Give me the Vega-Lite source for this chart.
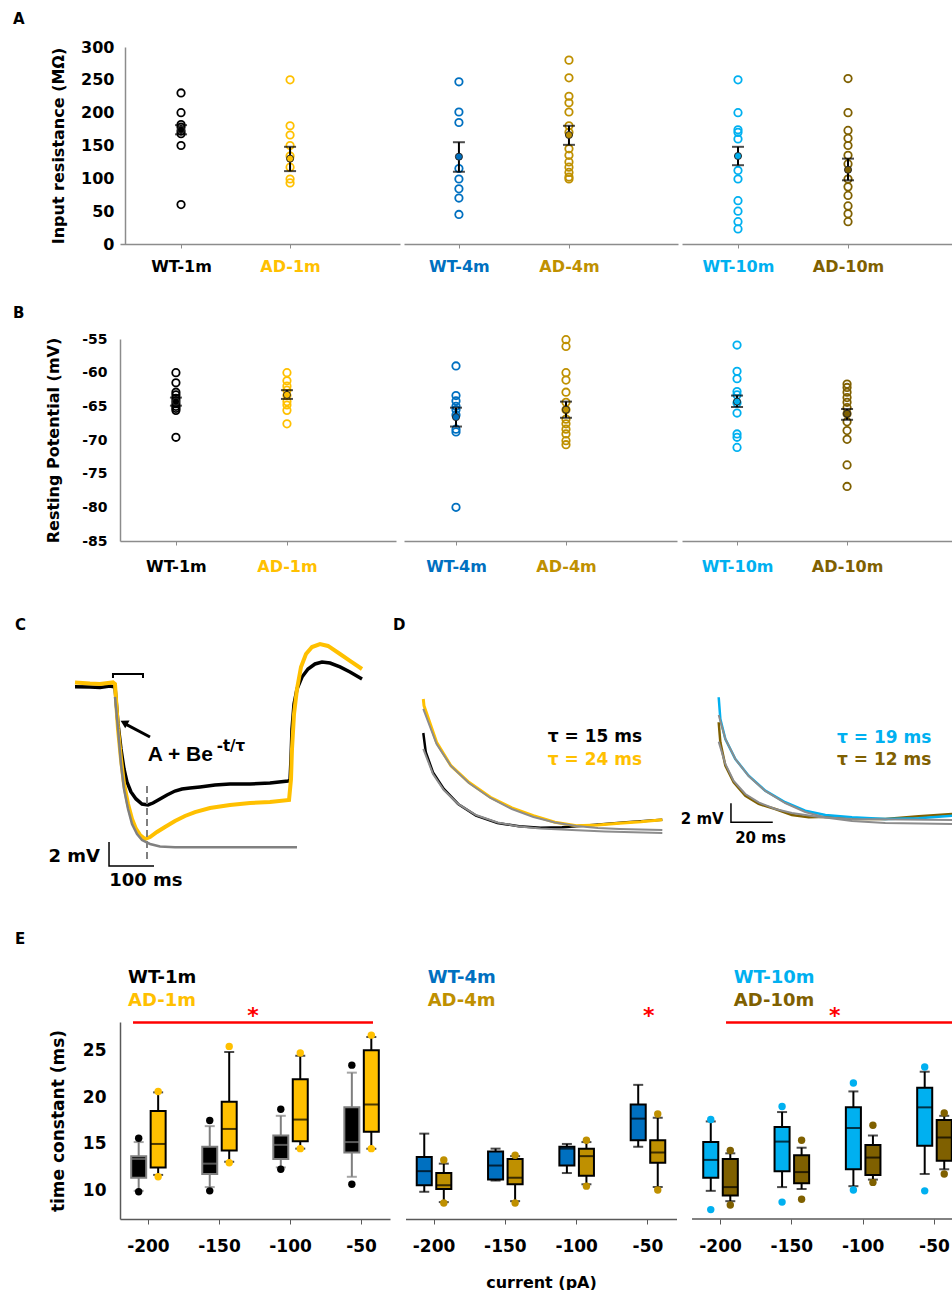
{
"$schema": "https://vega.github.io/schema/vega-lite/v6.json",
"background": "white",
"padding": {"left": 13, "top": 12, "right": 0, "bottom": 0},
"columns": 3,
"align": "none",
"bounds": "flush",
"spacing": {"row": 95, "column": 4},
"resolve": {"scale": {"x": "independent", "y": "independent", "stroke": "independent", "fill": "independent", "color": "independent", "xOffset": "independent"}},
"config": {
  "view": {"stroke": null},
  "font": "DejaVu Sans",
  "axis": {"labelFont": "DejaVu Sans", "titleFont": "DejaVu Sans", "labelFontWeight": "bold", "titleFontWeight": "bold", "labelColor": "#000000", "titleColor": "#000000", "grid": false, "labelOverlap": false},
  "axisY": {"labelOverlap": false, "labelSeparation": -40},
  "title": {"font": "DejaVu Sans", "fontWeight": "bold", "fontSize": 15, "anchor": "start", "frame": "group", "color": "#000000"},
  "text": {"font": "DejaVu Sans", "fontWeight": "bold"}
},
"datasets": {
  "A": [
    {"grp":"WT-1m","age":"1m","val":230},{"grp":"WT-1m","age":"1m","val":200},{"grp":"WT-1m","age":"1m","val":182},{"grp":"WT-1m","age":"1m","val":178},{"grp":"WT-1m","age":"1m","val":172},{"grp":"WT-1m","age":"1m","val":168},{"grp":"WT-1m","age":"1m","val":150},{"grp":"WT-1m","age":"1m","val":60},
    {"grp":"AD-1m","age":"1m","val":250},{"grp":"AD-1m","age":"1m","val":180},{"grp":"AD-1m","age":"1m","val":166},{"grp":"AD-1m","age":"1m","val":150},{"grp":"AD-1m","age":"1m","val":134},{"grp":"AD-1m","age":"1m","val":117},{"grp":"AD-1m","age":"1m","val":99},{"grp":"AD-1m","age":"1m","val":93},
    {"grp":"WT-4m","age":"4m","val":247},{"grp":"WT-4m","age":"4m","val":201},{"grp":"WT-4m","age":"4m","val":185},{"grp":"WT-4m","age":"4m","val":115},{"grp":"WT-4m","age":"4m","val":99},{"grp":"WT-4m","age":"4m","val":84},{"grp":"WT-4m","age":"4m","val":70},{"grp":"WT-4m","age":"4m","val":45},
    {"grp":"AD-4m","age":"4m","val":280},{"grp":"AD-4m","age":"4m","val":253},{"grp":"AD-4m","age":"4m","val":225},{"grp":"AD-4m","age":"4m","val":215},{"grp":"AD-4m","age":"4m","val":201},{"grp":"AD-4m","age":"4m","val":180},{"grp":"AD-4m","age":"4m","val":170},{"grp":"AD-4m","age":"4m","val":145},{"grp":"AD-4m","age":"4m","val":135},{"grp":"AD-4m","age":"4m","val":125},{"grp":"AD-4m","age":"4m","val":117},{"grp":"AD-4m","age":"4m","val":109},{"grp":"AD-4m","age":"4m","val":102},{"grp":"AD-4m","age":"4m","val":99},
    {"grp":"WT-10m","age":"10m","val":250},{"grp":"WT-10m","age":"10m","val":200},{"grp":"WT-10m","age":"10m","val":174},{"grp":"WT-10m","age":"10m","val":170},{"grp":"WT-10m","age":"10m","val":160},{"grp":"WT-10m","age":"10m","val":112},{"grp":"WT-10m","age":"10m","val":99},{"grp":"WT-10m","age":"10m","val":66},{"grp":"WT-10m","age":"10m","val":50},{"grp":"WT-10m","age":"10m","val":34},{"grp":"WT-10m","age":"10m","val":23},
    {"grp":"AD-10m","age":"10m","val":252},{"grp":"AD-10m","age":"10m","val":200},{"grp":"AD-10m","age":"10m","val":173},{"grp":"AD-10m","age":"10m","val":161},{"grp":"AD-10m","age":"10m","val":150},{"grp":"AD-10m","age":"10m","val":135},{"grp":"AD-10m","age":"10m","val":122},{"grp":"AD-10m","age":"10m","val":99},{"grp":"AD-10m","age":"10m","val":87},{"grp":"AD-10m","age":"10m","val":74},{"grp":"AD-10m","age":"10m","val":58},{"grp":"AD-10m","age":"10m","val":46},{"grp":"AD-10m","age":"10m","val":34}
  ],
  "As": [
    {"grp":"WT-1m","age":"1m","mean":174,"lo":167,"hi":181},
    {"grp":"AD-1m","age":"1m","mean":130,"lo":111,"hi":148},
    {"grp":"WT-4m","age":"4m","mean":133,"lo":110,"hi":155},
    {"grp":"AD-4m","age":"4m","mean":166,"lo":151,"hi":180},
    {"grp":"WT-10m","age":"10m","mean":134,"lo":120,"hi":148},
    {"grp":"AD-10m","age":"10m","mean":113,"lo":97,"hi":130}
  ],
  "B": [
    {"grp":"WT-1m","age":"1m","val":-60},{"grp":"WT-1m","age":"1m","val":-61.5},{"grp":"WT-1m","age":"1m","val":-62.9},{"grp":"WT-1m","age":"1m","val":-63.3},{"grp":"WT-1m","age":"1m","val":-63.8},{"grp":"WT-1m","age":"1m","val":-64.2},{"grp":"WT-1m","age":"1m","val":-64.6},{"grp":"WT-1m","age":"1m","val":-65},{"grp":"WT-1m","age":"1m","val":-65.3},{"grp":"WT-1m","age":"1m","val":-65.6},{"grp":"WT-1m","age":"1m","val":-69.6},
    {"grp":"AD-1m","age":"1m","val":-60},{"grp":"AD-1m","age":"1m","val":-61.2},{"grp":"AD-1m","age":"1m","val":-62},{"grp":"AD-1m","age":"1m","val":-62.6},{"grp":"AD-1m","age":"1m","val":-63.4},{"grp":"AD-1m","age":"1m","val":-64.3},{"grp":"AD-1m","age":"1m","val":-64.8},{"grp":"AD-1m","age":"1m","val":-65.6},{"grp":"AD-1m","age":"1m","val":-67.6},
    {"grp":"WT-4m","age":"4m","val":-59},{"grp":"WT-4m","age":"4m","val":-63.4},{"grp":"WT-4m","age":"4m","val":-64.2},{"grp":"WT-4m","age":"4m","val":-65},{"grp":"WT-4m","age":"4m","val":-65.5},{"grp":"WT-4m","age":"4m","val":-66.3},{"grp":"WT-4m","age":"4m","val":-68.4},{"grp":"WT-4m","age":"4m","val":-68.8},{"grp":"WT-4m","age":"4m","val":-80},
    {"grp":"AD-4m","age":"4m","val":-55.1},{"grp":"AD-4m","age":"4m","val":-56.1},{"grp":"AD-4m","age":"4m","val":-60},{"grp":"AD-4m","age":"4m","val":-61.1},{"grp":"AD-4m","age":"4m","val":-62.9},{"grp":"AD-4m","age":"4m","val":-64.4},{"grp":"AD-4m","age":"4m","val":-65.5},{"grp":"AD-4m","age":"4m","val":-66.9},{"grp":"AD-4m","age":"4m","val":-67.6},{"grp":"AD-4m","age":"4m","val":-68.4},{"grp":"AD-4m","age":"4m","val":-69.1},{"grp":"AD-4m","age":"4m","val":-70.1},{"grp":"AD-4m","age":"4m","val":-70.7},
    {"grp":"WT-10m","age":"10m","val":-55.9},{"grp":"WT-10m","age":"10m","val":-59.8},{"grp":"WT-10m","age":"10m","val":-60.9},{"grp":"WT-10m","age":"10m","val":-62.8},{"grp":"WT-10m","age":"10m","val":-63.3},{"grp":"WT-10m","age":"10m","val":-64.5},{"grp":"WT-10m","age":"10m","val":-66},{"grp":"WT-10m","age":"10m","val":-69.1},{"grp":"WT-10m","age":"10m","val":-69.6},{"grp":"WT-10m","age":"10m","val":-71.1},
    {"grp":"AD-10m","age":"10m","val":-61.7},{"grp":"AD-10m","age":"10m","val":-62.2},{"grp":"AD-10m","age":"10m","val":-62.9},{"grp":"AD-10m","age":"10m","val":-63.7},{"grp":"AD-10m","age":"10m","val":-64.4},{"grp":"AD-10m","age":"10m","val":-65.2},{"grp":"AD-10m","age":"10m","val":-66.1},{"grp":"AD-10m","age":"10m","val":-67.3},{"grp":"AD-10m","age":"10m","val":-68.6},{"grp":"AD-10m","age":"10m","val":-69.9},{"grp":"AD-10m","age":"10m","val":-73.7},{"grp":"AD-10m","age":"10m","val":-76.9}
  ],
  "Bs": [
    {"grp":"WT-1m","age":"1m","mean":-64.3,"lo":-64.9,"hi":-63.7},
    {"grp":"AD-1m","age":"1m","mean":-63.3,"lo":-63.9,"hi":-62.6},
    {"grp":"WT-4m","age":"4m","mean":-66.6,"lo":-68,"hi":-65.2},
    {"grp":"AD-4m","age":"4m","mean":-65.5,"lo":-66.7,"hi":-64.3},
    {"grp":"WT-10m","age":"10m","mean":-64.3,"lo":-65.1,"hi":-63.4},
    {"grp":"AD-10m","age":"10m","mean":-66.1,"lo":-67,"hi":-65.4}
  ],
  "C": [
    {"s":"WT","i":0,"t":0,"v":20.03},{"s":"WT","i":1,"t":33.3,"v":20.0},{"s":"WT","i":2,"t":55.6,"v":19.96},{"s":"WT","i":3,"t":77.8,"v":20.08},{"s":"WT","i":4,"t":88.9,"v":20.0},{"s":"WT","i":5,"t":91.1,"v":19.0},{"s":"WT","i":6,"t":95.6,"v":16.92},{"s":"WT","i":7,"t":102.2,"v":14.83},{"s":"WT","i":8,"t":108.9,"v":13.17},{"s":"WT","i":9,"t":115.6,"v":12.08},{"s":"WT","i":10,"t":124.4,"v":11.25},{"s":"WT","i":11,"t":135.6,"v":10.67},{"s":"WT","i":12,"t":148.9,"v":10.25},{"s":"WT","i":13,"t":162.2,"v":10.17},{"s":"WT","i":14,"t":173.3,"v":10.33},{"s":"WT","i":15,"t":188.9,"v":10.67},{"s":"WT","i":16,"t":204.4,"v":11.0},{"s":"WT","i":17,"t":222.2,"v":11.33},{"s":"WT","i":18,"t":237.8,"v":11.5},{"s":"WT","i":19,"t":255.6,"v":11.58},{"s":"WT","i":20,"t":277.8,"v":11.67},{"s":"WT","i":21,"t":311.1,"v":11.83},{"s":"WT","i":22,"t":344.4,"v":11.92},{"s":"WT","i":23,"t":388.9,"v":11.92},{"s":"WT","i":24,"t":433.3,"v":12.0},{"s":"WT","i":25,"t":473.3,"v":12.17},{"s":"WT","i":26,"t":477.8,"v":12.25},{"s":"WT","i":27,"t":480,"v":14.0},{"s":"WT","i":28,"t":482.2,"v":16.5},{"s":"WT","i":29,"t":486.7,"v":18.58},{"s":"WT","i":30,"t":493.3,"v":19.83},{"s":"WT","i":31,"t":504.4,"v":20.83},{"s":"WT","i":32,"t":517.8,"v":21.5},{"s":"WT","i":33,"t":533.3,"v":21.92},{"s":"WT","i":34,"t":548.9,"v":22.08},{"s":"WT","i":35,"t":566.7,"v":22.0},{"s":"WT","i":36,"t":588.9,"v":21.67},{"s":"WT","i":37,"t":611.1,"v":21.25},{"s":"WT","i":38,"t":637.8,"v":20.67},
    {"s":"AD","i":0,"t":0,"v":20.38},{"s":"AD","i":1,"t":33.3,"v":20.29},{"s":"AD","i":2,"t":55.6,"v":20.25},{"s":"AD","i":3,"t":84.4,"v":20.38},{"s":"AD","i":4,"t":88.9,"v":20.25},{"s":"AD","i":5,"t":91.1,"v":19.0},{"s":"AD","i":6,"t":95.6,"v":16.5},{"s":"AD","i":7,"t":102.2,"v":14.0},{"s":"AD","i":8,"t":108.9,"v":11.92},{"s":"AD","i":9,"t":117.8,"v":10.25},{"s":"AD","i":10,"t":126.7,"v":9.0},{"s":"AD","i":11,"t":135.6,"v":8.17},{"s":"AD","i":12,"t":144.4,"v":7.67},{"s":"AD","i":13,"t":155.6,"v":7.33},{"s":"AD","i":14,"t":166.7,"v":7.5},{"s":"AD","i":15,"t":182.2,"v":7.92},{"s":"AD","i":16,"t":200,"v":8.33},{"s":"AD","i":17,"t":222.2,"v":8.83},{"s":"AD","i":18,"t":244.4,"v":9.25},{"s":"AD","i":19,"t":266.7,"v":9.58},{"s":"AD","i":20,"t":300,"v":9.92},{"s":"AD","i":21,"t":344.4,"v":10.17},{"s":"AD","i":22,"t":388.9,"v":10.33},{"s":"AD","i":23,"t":433.3,"v":10.42},{"s":"AD","i":24,"t":475.6,"v":10.58},{"s":"AD","i":25,"t":480,"v":12.33},{"s":"AD","i":26,"t":482.2,"v":14.83},{"s":"AD","i":27,"t":486.7,"v":17.75},{"s":"AD","i":28,"t":493.3,"v":19.83},{"s":"AD","i":29,"t":502.2,"v":21.67},{"s":"AD","i":30,"t":513.3,"v":22.75},{"s":"AD","i":31,"t":526.7,"v":23.33},{"s":"AD","i":32,"t":544.4,"v":23.58},{"s":"AD","i":33,"t":562.2,"v":23.42},{"s":"AD","i":34,"t":588.9,"v":22.75},{"s":"AD","i":35,"t":611.1,"v":22.17},{"s":"AD","i":36,"t":637.8,"v":21.5},
    {"s":"fit","i":0,"t":88.9,"v":19.17},{"s":"fit","i":1,"t":95.6,"v":16.5},{"s":"fit","i":2,"t":102.2,"v":13.58},{"s":"fit","i":3,"t":108.9,"v":11.5},{"s":"fit","i":4,"t":117.8,"v":9.83},{"s":"fit","i":5,"t":126.7,"v":8.58},{"s":"fit","i":6,"t":137.8,"v":7.75},{"s":"fit","i":7,"t":148.9,"v":7.25},{"s":"fit","i":8,"t":166.7,"v":6.92},{"s":"fit","i":9,"t":188.9,"v":6.71},{"s":"fit","i":10,"t":222.2,"v":6.64},{"s":"fit","i":11,"t":493.3,"v":6.64},
    {"s":"br","i":0,"t":84.4,"v":20.75},{"s":"br","i":1,"t":84.4,"v":21.08},{"s":"br","i":2,"t":151.1,"v":21.08},{"s":"br","i":3,"t":151.1,"v":20.75},
    {"s":"ar","i":0,"t":166.7,"v":15.83},{"s":"ar","i":1,"t":110.5,"v":16.95},
    {"s":"sb","i":0,"t":75.6,"v":7.08},{"s":"sb","i":1,"t":75.6,"v":5.08},{"s":"sb","i":2,"t":175.6,"v":5.08}
  ],
  "Ct": [
    {"k":"mv","t":55.6,"v":5.83,"label":"2 mV"},
    {"k":"ms","t":157.3,"v":3.86,"label":"100 ms"},
    {"k":"eq","t":161.6,"v":14.32,"label":"A + Be"},
    {"k":"sup","t":314.9,"v":15.11,"label":"-t/τ"},
    {"k":"head","t":108.9,"v":17.04},
    {"k":"dash","t":160,"v":11.75,"v2":5.42}
  ],
  "D": [
    {"s":"WT1","i":0,"t":1.59,"v":20.42},{"s":"WT1","i":1,"t":2.79,"v":18.39},{"s":"WT1","i":2,"t":6.25,"v":16.28},{"s":"WT1","i":3,"t":11.44,"v":14.53},{"s":"WT1","i":4,"t":18.32,"v":12.95},{"s":"WT1","i":5,"t":26.92,"v":11.72},{"s":"WT1","i":6,"t":37.26,"v":10.95},{"s":"WT1","i":7,"t":47.6,"v":10.6},{"s":"WT1","i":8,"t":57.93,"v":10.45},{"s":"WT1","i":9,"t":68.27,"v":10.49},{"s":"WT1","i":10,"t":78.61,"v":10.66},{"s":"WT1","i":11,"t":88.94,"v":10.84},{"s":"WT1","i":12,"t":99.33,"v":11.02},{"s":"WT1","i":13,"t":116.5,"v":11.29},
    {"s":"AD1","i":0,"t":1.59,"v":24.0},{"s":"AD1","i":1,"t":1.92,"v":23.29},{"s":"AD1","i":2,"t":7.98,"v":19.44},{"s":"AD1","i":3,"t":14.86,"v":16.98},{"s":"AD1","i":4,"t":23.51,"v":15.23},{"s":"AD1","i":5,"t":33.85,"v":13.65},{"s":"AD1","i":6,"t":44.18,"v":12.53},{"s":"AD1","i":7,"t":54.52,"v":11.72},{"s":"AD1","i":8,"t":64.86,"v":11.02},{"s":"AD1","i":9,"t":75.19,"v":10.66},{"s":"AD1","i":10,"t":85.53,"v":10.74},{"s":"AD1","i":11,"t":95.87,"v":10.92},{"s":"AD1","i":12,"t":106.2,"v":11.08},{"s":"AD1","i":13,"t":116.5,"v":11.29},
    {"s":"fitAD1","i":0,"t":1.59,"v":22.95},{"s":"fitAD1","i":1,"t":7.98,"v":19.26},{"s":"fitAD1","i":2,"t":14.86,"v":16.95},{"s":"fitAD1","i":3,"t":23.51,"v":15.16},{"s":"fitAD1","i":4,"t":33.85,"v":13.58},{"s":"fitAD1","i":5,"t":44.18,"v":12.42},{"s":"fitAD1","i":6,"t":54.52,"v":11.58},{"s":"fitAD1","i":7,"t":64.86,"v":11.0},{"s":"fitAD1","i":8,"t":75.19,"v":10.63},{"s":"fitAD1","i":9,"t":85.53,"v":10.42},{"s":"fitAD1","i":10,"t":95.87,"v":10.32},{"s":"fitAD1","i":11,"t":116.5,"v":10.21},
    {"s":"fitWT1","i":0,"t":1.59,"v":18.74},{"s":"fitWT1","i":1,"t":6.25,"v":16.11},{"s":"fitWT1","i":2,"t":11.44,"v":14.42},{"s":"fitWT1","i":3,"t":18.32,"v":12.95},{"s":"fitWT1","i":4,"t":26.92,"v":11.79},{"s":"fitWT1","i":5,"t":37.26,"v":11.0},{"s":"fitWT1","i":6,"t":47.6,"v":10.58},{"s":"fitWT1","i":7,"t":57.93,"v":10.37},{"s":"fitWT1","i":8,"t":73.08,"v":10.21},{"s":"fitWT1","i":9,"t":88.94,"v":10.05},{"s":"fitWT1","i":10,"t":116.5,"v":9.89},
    {"s":"WT10","i":0,"t":143.6,"v":24.18},{"s":"WT10","i":1,"t":144.4,"v":21.89},{"s":"WT10","i":2,"t":146.8,"v":19.79},{"s":"WT10","i":3,"t":151.6,"v":17.68},{"s":"WT10","i":4,"t":158.0,"v":15.93},{"s":"WT10","i":5,"t":166.0,"v":14.35},{"s":"WT10","i":6,"t":175.6,"v":13.13},{"s":"WT10","i":7,"t":185.2,"v":12.24},{"s":"WT10","i":8,"t":194.9,"v":11.79},{"s":"WT10","i":9,"t":207.7,"v":11.55},{"s":"WT10","i":10,"t":223.7,"v":11.37},{"s":"WT10","i":11,"t":239.8,"v":11.44},{"s":"WT10","i":12,"t":255.8,"v":11.72},
    {"s":"AD10","i":0,"t":143.6,"v":21.55},{"s":"AD10","i":1,"t":144.4,"v":19.44},{"s":"AD10","i":2,"t":146.8,"v":16.98},{"s":"AD10","i":3,"t":150.8,"v":15.23},{"s":"AD10","i":4,"t":156.4,"v":13.82},{"s":"AD10","i":5,"t":162.8,"v":12.95},{"s":"AD10","i":6,"t":170.8,"v":12.42},{"s":"AD10","i":7,"t":178.8,"v":11.79},{"s":"AD10","i":8,"t":186.9,"v":11.55},{"s":"AD10","i":9,"t":196.5,"v":11.61},{"s":"AD10","i":10,"t":207.7,"v":11.37},{"s":"AD10","i":11,"t":223.7,"v":11.37},{"s":"AD10","i":12,"t":239.8,"v":11.65},{"s":"AD10","i":13,"t":255.8,"v":11.89},
    {"s":"fitWT10","i":0,"t":143.6,"v":22.32},{"s":"fitWT10","i":1,"t":146.8,"v":19.79},{"s":"fitWT10","i":2,"t":151.6,"v":17.68},{"s":"fitWT10","i":3,"t":158.0,"v":15.89},{"s":"fitWT10","i":4,"t":166.0,"v":14.32},{"s":"fitWT10","i":5,"t":175.6,"v":13.05},{"s":"fitWT10","i":6,"t":185.2,"v":12.11},{"s":"fitWT10","i":7,"t":194.9,"v":11.53},{"s":"fitWT10","i":8,"t":207.7,"v":11.16},{"s":"fitWT10","i":9,"t":223.7,"v":10.95},{"s":"fitWT10","i":10,"t":255.8,"v":10.84},
    {"s":"fitAD10","i":0,"t":143.6,"v":19.51},{"s":"fitAD10","i":1,"t":146.8,"v":17.16},{"s":"fitAD10","i":2,"t":150.8,"v":15.37},{"s":"fitAD10","i":3,"t":156.4,"v":14.0},{"s":"fitAD10","i":4,"t":162.8,"v":13.11},{"s":"fitAD10","i":5,"t":170.8,"v":12.42},{"s":"fitAD10","i":6,"t":178.8,"v":12.0},{"s":"fitAD10","i":7,"t":191.7,"v":11.58},{"s":"fitAD10","i":8,"t":207.7,"v":11.37},{"s":"fitAD10","i":9,"t":255.8,"v":11.26},
    {"s":"sb","i":0,"t":149.5,"v":13.02},{"s":"sb","i":1,"t":149.5,"v":11.02},{"s":"sb","i":2,"t":169.6,"v":11.02}
  ],
  "Dt": [
    {"grp":"WT-1m","age":"1m","t":61.4,"v":19.97,"label":"τ = 15 ms"},
    {"grp":"AD-1m","age":"1m","t":61.4,"v":17.61,"label":"τ = 24 ms"},
    {"grp":"WT-10m","age":"10m","t":200.5,"v":19.87,"label":"τ = 19 ms"},
    {"grp":"AD-10m","age":"10m","t":200.5,"v":17.61,"label":"τ = 12 ms"}
  ],
  "Ds": [
    {"k":"mv","t":146.0,"v":11.37,"label":"2 mV"},
    {"k":"ms","t":163.7,"v":9.34,"label":"20 ms"}
  ],
  "E": [
    {"age":"1m","grp":"WT-1m","geno":"WT","cur":"-200","q1":11.4,"med":13.4,"q3":13.7,"lo":10.0,"hi":15.2,"omin":9.9,"omax":15.6},
    {"age":"1m","grp":"AD-1m","geno":"AD","cur":"-200","q1":12.5,"med":15.0,"q3":18.5,"lo":11.7,"hi":20.5,"omin":11.5,"omax":20.6},
    {"age":"1m","grp":"WT-1m","geno":"WT","cur":"-150","q1":11.8,"med":12.9,"q3":14.7,"lo":10.4,"hi":16.9,"omin":10.0,"omax":17.5},
    {"age":"1m","grp":"AD-1m","geno":"AD","cur":"-150","q1":14.3,"med":16.6,"q3":19.5,"lo":13.1,"hi":24.8,"omin":13.0,"omax":25.4},
    {"age":"1m","grp":"WT-1m","geno":"WT","cur":"-100","q1":13.4,"med":14.9,"q3":15.9,"lo":12.5,"hi":18.0,"omin":12.3,"omax":18.7},
    {"age":"1m","grp":"AD-1m","geno":"AD","cur":"-100","q1":15.3,"med":17.6,"q3":21.9,"lo":14.5,"hi":24.4,"omin":14.5,"omax":24.7},
    {"age":"1m","grp":"WT-1m","geno":"WT","cur":"-50","q1":14.1,"med":15.2,"q3":18.9,"lo":11.5,"hi":22.6,"omin":10.7,"omax":23.4},
    {"age":"1m","grp":"AD-1m","geno":"AD","cur":"-50","q1":16.3,"med":19.2,"q3":25.0,"lo":14.5,"hi":26.4,"omin":14.5,"omax":26.6},
    {"age":"4m","grp":"WT-4m","geno":"WT","cur":"-200","q1":10.6,"med":12.1,"q3":13.6,"lo":9.9,"hi":16.1},
    {"age":"4m","grp":"AD-4m","geno":"AD","cur":"-200","q1":10.2,"med":10.6,"q3":11.9,"lo":8.8,"hi":12.9,"omin":8.7,"omax":13.3},
    {"age":"4m","grp":"WT-4m","geno":"WT","cur":"-150","q1":11.2,"med":12.7,"q3":14.2,"lo":11.1,"hi":14.5},
    {"age":"4m","grp":"AD-4m","geno":"AD","cur":"-150","q1":10.7,"med":11.4,"q3":13.4,"lo":8.9,"hi":13.7,"omin":8.7,"omax":13.8},
    {"age":"4m","grp":"WT-4m","geno":"WT","cur":"-100","q1":12.7,"med":14.5,"q3":14.7,"lo":11.9,"hi":15.0},
    {"age":"4m","grp":"AD-4m","geno":"AD","cur":"-100","q1":11.6,"med":13.7,"q3":14.5,"lo":10.7,"hi":15.2,"omin":10.5,"omax":15.4},
    {"age":"4m","grp":"WT-4m","geno":"WT","cur":"-50","q1":15.4,"med":17.7,"q3":19.2,"lo":14.7,"hi":21.3},
    {"age":"4m","grp":"AD-4m","geno":"AD","cur":"-50","q1":13.0,"med":14.1,"q3":15.4,"lo":10.4,"hi":17.8,"omin":10.1,"omax":18.2},
    {"age":"10m","grp":"WT-10m","geno":"WT","cur":"-200","q1":11.4,"med":13.3,"q3":15.2,"lo":10.0,"hi":17.4,"omin":8.0,"omax":17.6},
    {"age":"10m","grp":"AD-10m","geno":"AD","cur":"-200","q1":9.5,"med":10.4,"q3":13.4,"lo":8.9,"hi":14.0,"omin":8.5,"omax":14.3},
    {"age":"10m","grp":"WT-10m","geno":"WT","cur":"-150","q1":12.1,"med":15.25,"q3":16.8,"lo":10.4,"hi":18.4,"omin":8.8,"omax":19.0},
    {"age":"10m","grp":"AD-10m","geno":"AD","cur":"-150","q1":10.8,"med":12.0,"q3":13.8,"lo":10.2,"hi":14.6,"omin":9.1,"omax":15.4},
    {"age":"10m","grp":"WT-10m","geno":"WT","cur":"-100","q1":12.3,"med":16.7,"q3":18.9,"lo":10.5,"hi":20.6,"omin":10.1,"omax":21.5},
    {"age":"10m","grp":"AD-10m","geno":"AD","cur":"-100","q1":11.7,"med":13.55,"q3":14.9,"lo":11.2,"hi":15.9,"omin":10.9,"omax":17.0},
    {"age":"10m","grp":"WT-10m","geno":"WT","cur":"-50","q1":14.8,"med":18.9,"q3":21.0,"lo":11.8,"hi":22.7,"omin":10.0,"omax":23.2},
    {"age":"10m","grp":"AD-10m","geno":"AD","cur":"-50","q1":13.2,"med":15.7,"q3":17.55,"lo":12.3,"hi":18.0,"omin":11.8,"omax":18.3}
  ],
  "Eann": [
    {"age":"1m","k":"lgWT","grp":"WT-1m","cur":"-200","label":"WT-1m"},
    {"age":"1m","k":"lgAD","grp":"AD-1m","cur":"-200","label":"AD-1m"},
    {"age":"1m","k":"line","cur":"-200","cur2":"-50"},
    {"age":"1m","k":"star","cur":"-150","label":"*"},
    {"age":"4m","k":"lgWT","grp":"WT-4m","cur":"-200","label":"WT-4m"},
    {"age":"4m","k":"lgAD","grp":"AD-4m","cur":"-200","label":"AD-4m"},
    {"age":"4m","k":"star","cur":"-50","label":"*"},
    {"age":"10m","k":"lgWT","grp":"WT-10m","cur":"-200","label":"WT-10m"},
    {"age":"10m","k":"lgAD","grp":"AD-10m","cur":"-200","label":"AD-10m"},
    {"age":"10m","k":"line","cur":"-200","cur2":"-50"},
    {"age":"10m","k":"star","cur":"-150","label":"*"},
    {"age":"10m","k":"axis","cur":"-200","cur2":"-50","base":7}
  ]
},
"concat": [
  {"width": 280, "height": 197,
   "title": {"text": "A", "dx": -107, "offset": 12},
   "encoding": {"x": {"field": "grp", "type": "nominal", "sort": null, "scale": {"type": "point", "domain": ["WT-1m","AD-1m"], "padding": 0.784, "align": 0.357}, "axis": {"title": null, "labelFontSize": 16, "labelAngle": 0, "labelPadding": 10, "tickSize": 4, "tickColor": "#8C8C8C", "domainColor": "#8C8C8C", "domainWidth": 1.5, "labelColor": {"condition": {"test": "indexof(datum.label, 'WT') == 0", "value": "#000000"}, "value": "#FFC000"}}}},
   "layer": [
     {"data": {"name": "A"}, "transform": [{"filter": "datum.age == '1m'"}], "mark": {"type": "point", "filled": false, "strokeWidth": 1.8, "size": 55, "opacity": 1}, "encoding": {"y": {"field": "val", "type": "quantitative", "scale": {"domain": [0,300], "nice": false, "zero": false}, "axis": {"title": "Input resistance (MΩ)", "titleFontSize": 16, "labelFontSize": 16, "ticks": false, "tickSize": 0, "labelPadding": 11, "titlePadding": 14, "labelOverlap": false, "labelSeparation": -40, "domainColor": "#8C8C8C", "domainWidth": 1.5, "offset": -5, "values": [0,50,100,150,200,250,300]}}, "stroke": {"field": "grp", "type": "nominal", "scale": {"domain": ["WT-1m","AD-1m","WT-4m","AD-4m","WT-10m","AD-10m"], "range": ["#000000","#FFC000","#0070C0","#BF9000","#00B0F0","#7F6000"]}, "legend": null}}},
     {"data": {"name": "As"}, "transform": [{"filter": "datum.age == '1m'"}], "mark": {"type": "rule", "color": "#000000", "strokeWidth": 2}, "encoding": {"y": {"field": "lo", "type": "quantitative", "axis": {"title": "Input resistance (MΩ)", "titleFontSize": 16, "labelFontSize": 16, "ticks": false, "tickSize": 0, "labelPadding": 11, "titlePadding": 14, "labelOverlap": false, "labelSeparation": -40, "domainColor": "#8C8C8C", "domainWidth": 1.5, "offset": -5, "values": [0,50,100,150,200,250,300]}}, "y2": {"field": "hi"}}},
     {"data": {"name": "As"}, "transform": [{"filter": "datum.age == '1m'"}, {"fold": ["lo","hi"], "as": ["k","e"]}], "mark": {"type": "tick", "orient": "horizontal", "color": "#000000", "thickness": 2, "size": 12}, "encoding": {"y": {"field": "e", "type": "quantitative", "axis": {"title": "Input resistance (MΩ)", "titleFontSize": 16, "labelFontSize": 16, "ticks": false, "tickSize": 0, "labelPadding": 11, "titlePadding": 14, "labelOverlap": false, "labelSeparation": -40, "domainColor": "#8C8C8C", "domainWidth": 1.5, "offset": -5, "values": [0,50,100,150,200,250,300]}}}},
     {"data": {"name": "As"}, "transform": [{"filter": "datum.age == '1m'"}], "mark": {"type": "circle", "size": 50, "stroke": "#262626", "strokeWidth": 1, "opacity": 1}, "encoding": {"y": {"field": "mean", "type": "quantitative", "axis": {"title": "Input resistance (MΩ)", "titleFontSize": 16, "labelFontSize": 16, "ticks": false, "tickSize": 0, "labelPadding": 11, "titlePadding": 14, "labelOverlap": false, "labelSeparation": -40, "domainColor": "#8C8C8C", "domainWidth": 1.5, "offset": -5, "values": [0,50,100,150,200,250,300]}}, "fill": {"field": "grp", "type": "nominal", "scale": {"domain": ["WT-1m","AD-1m","WT-4m","AD-4m","WT-10m","AD-10m"], "range": ["#000000","#FFC000","#0070C0","#BF9000","#00B0F0","#7F6000"]}, "legend": null}}}
   ]},
  {"width": 274, "height": 197,
   "encoding": {"x": {"field": "grp", "type": "nominal", "sort": null, "scale": {"type": "point", "domain": ["WT-4m","AD-4m"], "padding": 0.745, "align": 0.335}, "axis": {"title": null, "labelFontSize": 16, "labelAngle": 0, "labelPadding": 10, "tickSize": 4, "tickColor": "#8C8C8C", "domainColor": "#8C8C8C", "domainWidth": 1.5, "labelColor": {"condition": {"test": "indexof(datum.label, 'WT') == 0", "value": "#0070C0"}, "value": "#BF9000"}}}},
   "layer": [
     {"data": {"name": "A"}, "transform": [{"filter": "datum.age == '4m'"}], "mark": {"type": "point", "filled": false, "strokeWidth": 1.8, "size": 55, "opacity": 1}, "encoding": {"y": {"field": "val", "type": "quantitative", "scale": {"domain": [0,300], "nice": false, "zero": false}, "axis": null}, "stroke": {"field": "grp", "type": "nominal", "scale": {"domain": ["WT-1m","AD-1m","WT-4m","AD-4m","WT-10m","AD-10m"], "range": ["#000000","#FFC000","#0070C0","#BF9000","#00B0F0","#7F6000"]}, "legend": null}}},
     {"data": {"name": "As"}, "transform": [{"filter": "datum.age == '4m'"}], "mark": {"type": "rule", "color": "#000000", "strokeWidth": 2}, "encoding": {"y": {"field": "lo", "type": "quantitative", "axis": null}, "y2": {"field": "hi"}}},
     {"data": {"name": "As"}, "transform": [{"filter": "datum.age == '4m'"}, {"fold": ["lo","hi"], "as": ["k","e"]}], "mark": {"type": "tick", "orient": "horizontal", "color": "#000000", "thickness": 2, "size": 12}, "encoding": {"y": {"field": "e", "type": "quantitative", "axis": null}}},
     {"data": {"name": "As"}, "transform": [{"filter": "datum.age == '4m'"}], "mark": {"type": "circle", "size": 50, "stroke": "#262626", "strokeWidth": 1, "opacity": 1}, "encoding": {"y": {"field": "mean", "type": "quantitative", "axis": null}, "fill": {"field": "grp", "type": "nominal", "scale": {"domain": ["WT-1m","AD-1m","WT-4m","AD-4m","WT-10m","AD-10m"], "range": ["#000000","#FFC000","#0070C0","#BF9000","#00B0F0","#7F6000"]}, "legend": null}}}
   ]},
  {"width": 270, "height": 197,
   "encoding": {"x": {"field": "grp", "type": "nominal", "sort": null, "scale": {"type": "point", "domain": ["WT-10m","AD-10m"], "padding": 0.727, "align": 0.35}, "axis": {"title": null, "labelFontSize": 16, "labelAngle": 0, "labelPadding": 10, "tickSize": 4, "tickColor": "#8C8C8C", "domainColor": "#8C8C8C", "domainWidth": 1.5, "labelColor": {"condition": {"test": "indexof(datum.label, 'WT') == 0", "value": "#00B0F0"}, "value": "#7F6000"}}}},
   "layer": [
     {"data": {"name": "A"}, "transform": [{"filter": "datum.age == '10m'"}], "mark": {"type": "point", "filled": false, "strokeWidth": 1.8, "size": 55, "opacity": 1}, "encoding": {"y": {"field": "val", "type": "quantitative", "scale": {"domain": [0,300], "nice": false, "zero": false}, "axis": null}, "stroke": {"field": "grp", "type": "nominal", "scale": {"domain": ["WT-1m","AD-1m","WT-4m","AD-4m","WT-10m","AD-10m"], "range": ["#000000","#FFC000","#0070C0","#BF9000","#00B0F0","#7F6000"]}, "legend": null}}},
     {"data": {"name": "As"}, "transform": [{"filter": "datum.age == '10m'"}], "mark": {"type": "rule", "color": "#000000", "strokeWidth": 2}, "encoding": {"y": {"field": "lo", "type": "quantitative", "axis": null}, "y2": {"field": "hi"}}},
     {"data": {"name": "As"}, "transform": [{"filter": "datum.age == '10m'"}, {"fold": ["lo","hi"], "as": ["k","e"]}], "mark": {"type": "tick", "orient": "horizontal", "color": "#000000", "thickness": 2, "size": 12}, "encoding": {"y": {"field": "e", "type": "quantitative", "axis": null}}},
     {"data": {"name": "As"}, "transform": [{"filter": "datum.age == '10m'"}], "mark": {"type": "circle", "size": 50, "stroke": "#262626", "strokeWidth": 1, "opacity": 1}, "encoding": {"y": {"field": "mean", "type": "quantitative", "axis": null}, "fill": {"field": "grp", "type": "nominal", "scale": {"domain": ["WT-1m","AD-1m","WT-4m","AD-4m","WT-10m","AD-10m"], "range": ["#000000","#FFC000","#0070C0","#BF9000","#00B0F0","#7F6000"]}, "legend": null}}}
   ]},
  {"width": 276, "height": 202,
   "title": {"text": "B", "dx": -107, "offset": 11},
   "encoding": {"x": {"field": "grp", "type": "nominal", "sort": null, "scale": {"type": "point", "domain": ["WT-1m","AD-1m"], "padding": 0.743, "align": 0.339}, "axis": {"title": null, "labelFontSize": 16, "labelAngle": 0, "labelPadding": 13, "tickSize": 4, "tickColor": "#8C8C8C", "domainColor": "#8C8C8C", "domainWidth": 1.5, "labelColor": {"condition": {"test": "indexof(datum.label, 'WT') == 0", "value": "#000000"}, "value": "#FFC000"}}}},
   "layer": [
     {"data": {"name": "B"}, "transform": [{"filter": "datum.age == '1m'"}], "mark": {"type": "point", "filled": false, "strokeWidth": 1.8, "size": 55, "opacity": 1}, "encoding": {"y": {"field": "val", "type": "quantitative", "scale": {"domain": [-85,-55], "nice": false, "zero": false}, "axis": {"title": "Resting Potential (mV)", "titleFontSize": 16, "labelFontSize": 14, "ticks": false, "tickSize": 0, "labelPadding": 13, "titlePadding": 20, "labelOverlap": false, "labelSeparation": -40, "domainColor": "#8C8C8C", "domainWidth": 1.5, "values": [-85,-80,-75,-70,-65,-60,-55], "labelExpr": "replace(datum.label, '−', '-')"}}, "stroke": {"field": "grp", "type": "nominal", "scale": {"domain": ["WT-1m","AD-1m","WT-4m","AD-4m","WT-10m","AD-10m"], "range": ["#000000","#FFC000","#0070C0","#BF9000","#00B0F0","#7F6000"]}, "legend": null}}},
     {"data": {"name": "Bs"}, "transform": [{"filter": "datum.age == '1m'"}], "mark": {"type": "rule", "color": "#000000", "strokeWidth": 2}, "encoding": {"y": {"field": "lo", "type": "quantitative", "axis": {"title": "Resting Potential (mV)", "titleFontSize": 16, "labelFontSize": 14, "ticks": false, "tickSize": 0, "labelPadding": 13, "titlePadding": 20, "labelOverlap": false, "labelSeparation": -40, "domainColor": "#8C8C8C", "domainWidth": 1.5, "values": [-85,-80,-75,-70,-65,-60,-55], "labelExpr": "replace(datum.label, '−', '-')"}}, "y2": {"field": "hi"}}},
     {"data": {"name": "Bs"}, "transform": [{"filter": "datum.age == '1m'"}, {"fold": ["lo","hi"], "as": ["k","e"]}], "mark": {"type": "tick", "orient": "horizontal", "color": "#000000", "thickness": 2, "size": 12}, "encoding": {"y": {"field": "e", "type": "quantitative", "axis": {"title": "Resting Potential (mV)", "titleFontSize": 16, "labelFontSize": 14, "ticks": false, "tickSize": 0, "labelPadding": 13, "titlePadding": 20, "labelOverlap": false, "labelSeparation": -40, "domainColor": "#8C8C8C", "domainWidth": 1.5, "values": [-85,-80,-75,-70,-65,-60,-55], "labelExpr": "replace(datum.label, '−', '-')"}}}},
     {"data": {"name": "Bs"}, "transform": [{"filter": "datum.age == '1m'"}], "mark": {"type": "circle", "size": 50, "stroke": "#262626", "strokeWidth": 1, "opacity": 1}, "encoding": {"y": {"field": "mean", "type": "quantitative", "axis": {"title": "Resting Potential (mV)", "titleFontSize": 16, "labelFontSize": 14, "ticks": false, "tickSize": 0, "labelPadding": 13, "titlePadding": 20, "labelOverlap": false, "labelSeparation": -40, "domainColor": "#8C8C8C", "domainWidth": 1.5, "values": [-85,-80,-75,-70,-65,-60,-55], "labelExpr": "replace(datum.label, '−', '-')"}}, "fill": {"field": "grp", "type": "nominal", "scale": {"domain": ["WT-1m","AD-1m","WT-4m","AD-4m","WT-10m","AD-10m"], "range": ["#000000","#FFC000","#0070C0","#BF9000","#00B0F0","#7F6000"]}, "legend": null}}}
   ]},
  {"width": 273, "height": 202,
   "encoding": {"x": {"field": "grp", "type": "nominal", "sort": null, "scale": {"type": "point", "domain": ["WT-4m","AD-4m"], "padding": 0.741, "align": 0.319}, "axis": {"title": null, "labelFontSize": 16, "labelAngle": 0, "labelPadding": 13, "tickSize": 4, "tickColor": "#8C8C8C", "domainColor": "#8C8C8C", "domainWidth": 1.5, "labelColor": {"condition": {"test": "indexof(datum.label, 'WT') == 0", "value": "#0070C0"}, "value": "#BF9000"}}}},
   "layer": [
     {"data": {"name": "B"}, "transform": [{"filter": "datum.age == '4m'"}], "mark": {"type": "point", "filled": false, "strokeWidth": 1.8, "size": 55, "opacity": 1}, "encoding": {"y": {"field": "val", "type": "quantitative", "scale": {"domain": [-85,-55], "nice": false, "zero": false}, "axis": null}, "stroke": {"field": "grp", "type": "nominal", "scale": {"domain": ["WT-1m","AD-1m","WT-4m","AD-4m","WT-10m","AD-10m"], "range": ["#000000","#FFC000","#0070C0","#BF9000","#00B0F0","#7F6000"]}, "legend": null}}},
     {"data": {"name": "Bs"}, "transform": [{"filter": "datum.age == '4m'"}], "mark": {"type": "rule", "color": "#000000", "strokeWidth": 2}, "encoding": {"y": {"field": "lo", "type": "quantitative", "axis": null}, "y2": {"field": "hi"}}},
     {"data": {"name": "Bs"}, "transform": [{"filter": "datum.age == '4m'"}, {"fold": ["lo","hi"], "as": ["k","e"]}], "mark": {"type": "tick", "orient": "horizontal", "color": "#000000", "thickness": 2, "size": 12}, "encoding": {"y": {"field": "e", "type": "quantitative", "axis": null}}},
     {"data": {"name": "Bs"}, "transform": [{"filter": "datum.age == '4m'"}], "mark": {"type": "circle", "size": 50, "stroke": "#262626", "strokeWidth": 1, "opacity": 1}, "encoding": {"y": {"field": "mean", "type": "quantitative", "axis": null}, "fill": {"field": "grp", "type": "nominal", "scale": {"domain": ["WT-1m","AD-1m","WT-4m","AD-4m","WT-10m","AD-10m"], "range": ["#000000","#FFC000","#0070C0","#BF9000","#00B0F0","#7F6000"]}, "legend": null}}}
   ]},
  {"width": 270, "height": 202,
   "encoding": {"x": {"field": "grp", "type": "nominal", "sort": null, "scale": {"type": "point", "domain": ["WT-10m","AD-10m"], "padding": 0.727, "align": 0.344}, "axis": {"title": null, "labelFontSize": 16, "labelAngle": 0, "labelPadding": 13, "tickSize": 4, "tickColor": "#8C8C8C", "domainColor": "#8C8C8C", "domainWidth": 1.5, "labelColor": {"condition": {"test": "indexof(datum.label, 'WT') == 0", "value": "#00B0F0"}, "value": "#7F6000"}}}},
   "layer": [
     {"data": {"name": "B"}, "transform": [{"filter": "datum.age == '10m'"}], "mark": {"type": "point", "filled": false, "strokeWidth": 1.8, "size": 55, "opacity": 1}, "encoding": {"y": {"field": "val", "type": "quantitative", "scale": {"domain": [-85,-55], "nice": false, "zero": false}, "axis": null}, "stroke": {"field": "grp", "type": "nominal", "scale": {"domain": ["WT-1m","AD-1m","WT-4m","AD-4m","WT-10m","AD-10m"], "range": ["#000000","#FFC000","#0070C0","#BF9000","#00B0F0","#7F6000"]}, "legend": null}}},
     {"data": {"name": "Bs"}, "transform": [{"filter": "datum.age == '10m'"}], "mark": {"type": "rule", "color": "#000000", "strokeWidth": 2}, "encoding": {"y": {"field": "lo", "type": "quantitative", "axis": null}, "y2": {"field": "hi"}}},
     {"data": {"name": "Bs"}, "transform": [{"filter": "datum.age == '10m'"}, {"fold": ["lo","hi"], "as": ["k","e"]}], "mark": {"type": "tick", "orient": "horizontal", "color": "#000000", "thickness": 2, "size": 12}, "encoding": {"y": {"field": "e", "type": "quantitative", "axis": null}}},
     {"data": {"name": "Bs"}, "transform": [{"filter": "datum.age == '10m'"}], "mark": {"type": "circle", "size": 50, "stroke": "#262626", "strokeWidth": 1, "opacity": 1}, "encoding": {"y": {"field": "mean", "type": "quantitative", "axis": null}, "fill": {"field": "grp", "type": "nominal", "scale": {"domain": ["WT-1m","AD-1m","WT-4m","AD-4m","WT-10m","AD-10m"], "range": ["#000000","#FFC000","#0070C0","#BF9000","#00B0F0","#7F6000"]}, "legend": null}}}
   ]},
  {"width": 280, "height": 291,
   "title": {"text": "C", "dx": -105, "offset": 3.5},
   "encoding": {"x": {"field": "t", "type": "quantitative", "scale": {"domain": [100, 722.2], "nice": false, "zero": false}, "axis": null}, "y": {"field": "v", "type": "quantitative", "scale": {"domain": [0, 24.25], "nice": false, "zero": false}, "axis": null}},
   "layer": [
     {"data": {"name": "C"}, "transform": [{"filter": "datum.s == 'WT'"}], "mark": {"type": "line", "color": "#000000", "strokeWidth": 3.5}, "encoding": {"order": {"field": "i", "type": "quantitative"}}},
     {"data": {"name": "C"}, "transform": [{"filter": "datum.s == 'AD'"}], "mark": {"type": "line", "color": "#FFC000", "strokeWidth": 4}, "encoding": {"order": {"field": "i", "type": "quantitative"}}},
     {"data": {"name": "C"}, "transform": [{"filter": "datum.s == 'fit'"}], "mark": {"type": "line", "color": "#808080", "strokeWidth": 2.5}, "encoding": {"order": {"field": "i", "type": "quantitative"}}},
     {"data": {"name": "C"}, "transform": [{"filter": "datum.s == 'br'"}], "mark": {"type": "line", "color": "#000000", "strokeWidth": 2}, "encoding": {"order": {"field": "i", "type": "quantitative"}}},
     {"data": {"name": "C"}, "transform": [{"filter": "datum.s == 'ar'"}], "mark": {"type": "line", "color": "#000000", "strokeWidth": 3}, "encoding": {"order": {"field": "i", "type": "quantitative"}}},
     {"data": {"name": "C"}, "transform": [{"filter": "datum.s == 'sb'"}], "mark": {"type": "line", "color": "#000000", "strokeWidth": 1.5}, "encoding": {"order": {"field": "i", "type": "quantitative"}}},
     {"data": {"name": "Ct"}, "transform": [{"filter": "datum.k == 'dash'"}], "mark": {"type": "rule", "color": "#808080", "strokeWidth": 2, "strokeDash": [7, 4]}, "encoding": {"y2": {"field": "v2"}}},
     {"data": {"name": "Ct"}, "transform": [{"filter": "datum.k == 'head'"}], "mark": {"type": "point", "shape": "triangle-up", "filled": true, "color": "#000000", "size": 80, "angle": -61, "opacity": 1}},
     {"data": {"name": "Ct"}, "transform": [{"filter": "datum.k == 'mv'"}], "mark": {"type": "text", "align": "right", "baseline": "middle", "fontSize": 18, "color": "#000000"}, "encoding": {"text": {"field": "label"}}},
     {"data": {"name": "Ct"}, "transform": [{"filter": "datum.k == 'ms'"}], "mark": {"type": "text", "align": "center", "baseline": "middle", "fontSize": 18, "color": "#000000"}, "encoding": {"text": {"field": "label"}}},
     {"data": {"name": "Ct"}, "transform": [{"filter": "datum.k == 'eq'"}], "mark": {"type": "text", "align": "left", "baseline": "middle", "fontSize": 21, "font": "Liberation Sans", "color": "#000000"}, "encoding": {"text": {"field": "label"}}},
     {"data": {"name": "Ct"}, "transform": [{"filter": "datum.k == 'sup'"}], "mark": {"type": "text", "align": "left", "baseline": "middle", "fontSize": 15, "color": "#000000"}, "encoding": {"text": {"field": "label"}}}
   ]},
  {"width": 274, "height": 291,
   "title": {"text": "D", "dx": -11, "offset": 3.5},
   "encoding": {"x": {"field": "t", "type": "quantitative", "scale": {"domain": [-7.69, 124.04], "nice": false, "zero": false}, "axis": null}, "y": {"field": "v", "type": "quantitative", "scale": {"domain": [0, 30.63], "nice": false, "zero": false}, "axis": null}},
   "layer": [
     {"data": {"name": "D"}, "transform": [{"filter": "datum.s == 'WT1'"}], "mark": {"type": "line", "color": "#000000", "strokeWidth": 2.5}, "encoding": {"order": {"field": "i", "type": "quantitative"}}},
     {"data": {"name": "D"}, "transform": [{"filter": "datum.s == 'AD1'"}], "mark": {"type": "line", "color": "#FFC000", "strokeWidth": 3}, "encoding": {"order": {"field": "i", "type": "quantitative"}}},
     {"data": {"name": "D"}, "transform": [{"filter": "datum.s == 'fitAD1' || datum.s == 'fitWT1'"}], "mark": {"type": "line", "color": "#8C8C8C", "strokeWidth": 2}, "encoding": {"detail": {"field": "s"}, "order": {"field": "i", "type": "quantitative"}}},
     {"data": {"name": "Dt"}, "transform": [{"filter": "datum.age == '1m'"}], "mark": {"type": "text", "align": "left", "baseline": "middle", "fontSize": 17}, "encoding": {"text": {"field": "label"}, "fill": {"field": "grp", "type": "nominal", "scale": {"domain": ["WT-1m","AD-1m","WT-4m","AD-4m","WT-10m","AD-10m"], "range": ["#000000","#FFC000","#0070C0","#BF9000","#00B0F0","#7F6000"]}, "legend": null}}}
   ]},
  {"width": 270, "height": 291,
   "encoding": {"x": {"field": "t", "type": "quantitative", "scale": {"domain": [125.96, 255.77], "nice": false, "zero": false}, "axis": null}, "y": {"field": "v", "type": "quantitative", "scale": {"domain": [0, 30.63], "nice": false, "zero": false}, "axis": null}},
   "layer": [
     {"data": {"name": "D"}, "transform": [{"filter": "datum.s == 'AD10'"}], "mark": {"type": "line", "color": "#7F6000", "strokeWidth": 2.5}, "encoding": {"order": {"field": "i", "type": "quantitative"}}},
     {"data": {"name": "D"}, "transform": [{"filter": "datum.s == 'WT10'"}], "mark": {"type": "line", "color": "#00B0F0", "strokeWidth": 2.5}, "encoding": {"order": {"field": "i", "type": "quantitative"}}},
     {"data": {"name": "D"}, "transform": [{"filter": "datum.s == 'fitAD10' || datum.s == 'fitWT10'"}], "mark": {"type": "line", "color": "#8C8C8C", "strokeWidth": 2}, "encoding": {"detail": {"field": "s"}, "order": {"field": "i", "type": "quantitative"}}},
     {"data": {"name": "D"}, "transform": [{"filter": "datum.s == 'sb'"}], "mark": {"type": "line", "color": "#000000", "strokeWidth": 1.5}, "encoding": {"order": {"field": "i", "type": "quantitative"}}},
     {"data": {"name": "Dt"}, "transform": [{"filter": "datum.age == '10m'"}], "mark": {"type": "text", "align": "left", "baseline": "middle", "fontSize": 17}, "encoding": {"text": {"field": "label"}, "fill": {"field": "grp", "type": "nominal", "scale": {"domain": ["WT-1m","AD-1m","WT-4m","AD-4m","WT-10m","AD-10m"], "range": ["#000000","#FFC000","#0070C0","#BF9000","#00B0F0","#7F6000"]}, "legend": null}}},
     {"data": {"name": "Ds"}, "transform": [{"filter": "datum.k == 'mv'"}], "mark": {"type": "text", "align": "right", "baseline": "middle", "fontSize": 15, "color": "#000000"}, "encoding": {"text": {"field": "label"}}},
     {"data": {"name": "Ds"}, "transform": [{"filter": "datum.k == 'ms'"}], "mark": {"type": "text", "align": "center", "baseline": "middle", "fontSize": 15, "color": "#000000"}, "encoding": {"text": {"field": "label"}}}
   ]},
  {"width": 280, "height": 197,
   "title": {"text": "E", "dx": -105, "offset": 22},
   "encoding": {"x": {"field": "cur", "type": "nominal", "sort": null, "scale": {"type": "band", "domain": ["-200","-150","-100","-50"], "range": [0, 270], "paddingInner": 0.2, "paddingOuter": 0}, "axis": {"title": null, "labelFontSize": 17, "labelAngle": 0, "labelPadding": 14, "tickSize": 5, "tickColor": "#595959", "domainColor": "#595959", "domainWidth": 1.5}}},
   "layer": [
     {"data": {"name": "E"}, "transform": [{"filter": "datum.age == '1m'"}],
      "encoding": {"xOffset": {"field": "geno", "type": "nominal", "sort": null, "scale": {"domain": ["WT","AD"], "paddingInner": 0.23, "paddingOuter": 0.575}}},
      "layer": [
        {"mark": {"type": "rule", "strokeWidth": 2}, "encoding": {"y": {"field": "lo", "type": "quantitative", "scale": {"domain": [7, 28], "nice": false, "zero": false}, "axis": {"title": "time constant (ms)", "titleFontSize": 17, "labelFontSize": 17, "ticks": false, "tickSize": 0, "labelPadding": 14, "titlePadding": 15, "labelOverlap": false, "domainColor": "#595959", "domainWidth": 1.5, "values": [10,15,20,25]}}, "y2": {"field": "hi"}, "stroke": {"field": "grp", "type": "nominal", "scale": {"domain": ["WT-1m","AD-1m","WT-4m","AD-4m","WT-10m","AD-10m"], "range": ["#7F7F7F","#000000","#000000","#000000","#000000","#000000"]}, "legend": null}}},
        {"transform": [{"fold": ["lo","hi"], "as": ["k","e"]}], "mark": {"type": "tick", "thickness": 2, "size": 10, "orient": "horizontal"}, "encoding": {"y": {"field": "e", "type": "quantitative"}, "color": {"field": "grp", "type": "nominal", "scale": {"domain": ["WT-1m","AD-1m","WT-4m","AD-4m","WT-10m","AD-10m"], "range": ["#7F7F7F","#000000","#000000","#000000","#000000","#000000"]}, "legend": null}}},
        {"mark": {"type": "bar", "strokeWidth": 2}, "encoding": {"y": {"field": "q1", "type": "quantitative"}, "y2": {"field": "q3"}, "fill": {"field": "grp", "type": "nominal", "scale": {"domain": ["WT-1m","AD-1m","WT-4m","AD-4m","WT-10m","AD-10m"], "range": ["#000000","#FFC000","#0070C0","#BF9000","#00B0F0","#7F6000"]}, "legend": null}, "stroke": {"field": "grp", "type": "nominal", "legend": null}}},
        {"mark": {"type": "tick", "thickness": 2, "size": 15, "orient": "horizontal"}, "encoding": {"y": {"field": "med", "type": "quantitative"}, "color": {"field": "grp", "type": "nominal", "legend": null}}},
        {"transform": [{"fold": ["omin","omax"], "as": ["k","e"]}], "mark": {"type": "circle", "size": 55, "opacity": 1}, "encoding": {"y": {"field": "e", "type": "quantitative"}, "fill": {"field": "grp", "type": "nominal", "legend": null}}}
      ]},
     {"data": {"name": "Eann"}, "transform": [{"filter": "datum.age == '1m' && datum.k == 'line'"}], "mark": {"type": "rule", "color": "#FF0000", "strokeWidth": 2.5, "xOffset": -15.4, "x2Offset": 11.4}, "encoding": {"x2": {"field": "cur2"}, "y": {"datum": 27.95, "type": "quantitative"}}},
     {"data": {"name": "Eann"}, "transform": [{"filter": "datum.age == '1m' && datum.k == 'star'"}], "mark": {"type": "text", "color": "#FF0000", "fontSize": 22, "baseline": "alphabetic", "align": "center", "dx": 33.5, "dy": 1}, "encoding": {"y": {"datum": 28, "type": "quantitative"}, "text": {"field": "label"}}},
     {"data": {"name": "Eann"}, "transform": [{"filter": "datum.age == '1m' && datum.k == 'lgWT'"}], "mark": {"type": "text", "fontSize": 18, "align": "left", "baseline": "middle", "dx": -20.4}, "encoding": {"y": {"datum": 32.7, "type": "quantitative"}, "text": {"field": "label"}, "fill": {"field": "grp", "type": "nominal", "legend": null}}},
     {"data": {"name": "Eann"}, "transform": [{"filter": "datum.age == '1m' && datum.k == 'lgAD'"}], "mark": {"type": "text", "fontSize": 18, "align": "left", "baseline": "middle", "dx": -20.4}, "encoding": {"y": {"datum": 30.2, "type": "quantitative"}, "text": {"field": "label"}, "fill": {"field": "grp", "type": "nominal", "legend": null}}}
   ]},
  {"width": 274, "height": 197,
   "encoding": {"x": {"field": "cur", "type": "nominal", "sort": null, "scale": {"type": "band", "domain": ["-200","-150","-100","-50"], "range": [1.5, 272.5], "paddingInner": 0.2, "paddingOuter": 0}, "axis": {"title": "current (pA)", "titleFontSize": 16, "titlePadding": 20, "labelFontSize": 17, "labelAngle": 0, "labelPadding": 14, "tickSize": 5, "tickColor": "#595959", "domainColor": "#595959", "domainWidth": 1.5}}},
   "layer": [
     {"data": {"name": "E"}, "transform": [{"filter": "datum.age == '4m'"}],
      "encoding": {"xOffset": {"field": "geno", "type": "nominal", "sort": null, "scale": {"domain": ["WT","AD"], "paddingInner": 0.23, "paddingOuter": 0.575}}},
      "layer": [
        {"mark": {"type": "rule", "strokeWidth": 2}, "encoding": {"y": {"field": "lo", "type": "quantitative", "scale": {"domain": [7, 28], "nice": false, "zero": false}, "axis": null}, "y2": {"field": "hi"}, "stroke": {"field": "grp", "type": "nominal", "scale": {"domain": ["WT-1m","AD-1m","WT-4m","AD-4m","WT-10m","AD-10m"], "range": ["#7F7F7F","#000000","#000000","#000000","#000000","#000000"]}, "legend": null}}},
        {"transform": [{"fold": ["lo","hi"], "as": ["k","e"]}], "mark": {"type": "tick", "thickness": 2, "size": 10, "orient": "horizontal"}, "encoding": {"y": {"field": "e", "type": "quantitative", "axis": null}, "color": {"field": "grp", "type": "nominal", "scale": {"domain": ["WT-1m","AD-1m","WT-4m","AD-4m","WT-10m","AD-10m"], "range": ["#7F7F7F","#000000","#000000","#000000","#000000","#000000"]}, "legend": null}}},
        {"mark": {"type": "bar", "strokeWidth": 2}, "encoding": {"y": {"field": "q1", "type": "quantitative", "axis": null}, "y2": {"field": "q3"}, "fill": {"field": "grp", "type": "nominal", "scale": {"domain": ["WT-1m","AD-1m","WT-4m","AD-4m","WT-10m","AD-10m"], "range": ["#000000","#FFC000","#0070C0","#BF9000","#00B0F0","#7F6000"]}, "legend": null}, "stroke": {"field": "grp", "type": "nominal", "legend": null}}},
        {"mark": {"type": "tick", "thickness": 2, "size": 15, "orient": "horizontal"}, "encoding": {"y": {"field": "med", "type": "quantitative", "axis": null}, "color": {"field": "grp", "type": "nominal", "legend": null}}},
        {"transform": [{"fold": ["omin","omax"], "as": ["k","e"]}], "mark": {"type": "circle", "size": 55, "opacity": 1}, "encoding": {"y": {"field": "e", "type": "quantitative", "axis": null}, "fill": {"field": "grp", "type": "nominal", "legend": null}}}
      ]},
     {"data": {"name": "Eann"}, "transform": [{"filter": "datum.age == '4m' && datum.k == 'star'"}], "mark": {"type": "text", "color": "#FF0000", "fontSize": 22, "baseline": "alphabetic", "align": "center", "dx": 0.9, "dy": 1}, "encoding": {"y": {"datum": 28, "type": "quantitative", "axis": null}, "text": {"field": "label"}}},
     {"data": {"name": "Eann"}, "transform": [{"filter": "datum.age == '4m' && datum.k == 'lgWT'"}], "mark": {"type": "text", "fontSize": 18, "align": "left", "baseline": "middle", "dx": -6.4}, "encoding": {"y": {"datum": 32.7, "type": "quantitative", "axis": null}, "text": {"field": "label"}, "fill": {"field": "grp", "type": "nominal", "legend": null}}},
     {"data": {"name": "Eann"}, "transform": [{"filter": "datum.age == '4m' && datum.k == 'lgAD'"}], "mark": {"type": "text", "fontSize": 18, "align": "left", "baseline": "middle", "dx": -6.4}, "encoding": {"y": {"datum": 30.2, "type": "quantitative", "axis": null}, "text": {"field": "label"}, "fill": {"field": "grp", "type": "nominal", "legend": null}}}
   ]},
  {"width": 270, "height": 197,
   "encoding": {"x": {"field": "cur", "type": "nominal", "sort": null, "scale": {"type": "band", "domain": ["-200","-150","-100","-50"], "range": [10, 281], "paddingInner": 0.2, "paddingOuter": 0}, "axis": {"title": null, "domain": false, "labelFontSize": 17, "labelAngle": 0, "labelPadding": 14, "tickSize": 5, "tickColor": "#595959"}}},
   "layer": [
     {"data": {"name": "E"}, "transform": [{"filter": "datum.age == '10m'"}],
      "encoding": {"xOffset": {"field": "geno", "type": "nominal", "sort": null, "scale": {"domain": ["WT","AD"], "paddingInner": 0.23, "paddingOuter": 0.575}}},
      "layer": [
        {"mark": {"type": "rule", "strokeWidth": 2}, "encoding": {"y": {"field": "lo", "type": "quantitative", "scale": {"domain": [7, 28], "nice": false, "zero": false}, "axis": null}, "y2": {"field": "hi"}, "stroke": {"field": "grp", "type": "nominal", "scale": {"domain": ["WT-1m","AD-1m","WT-4m","AD-4m","WT-10m","AD-10m"], "range": ["#7F7F7F","#000000","#000000","#000000","#000000","#000000"]}, "legend": null}}},
        {"transform": [{"fold": ["lo","hi"], "as": ["k","e"]}], "mark": {"type": "tick", "thickness": 2, "size": 10, "orient": "horizontal"}, "encoding": {"y": {"field": "e", "type": "quantitative", "axis": null}, "color": {"field": "grp", "type": "nominal", "scale": {"domain": ["WT-1m","AD-1m","WT-4m","AD-4m","WT-10m","AD-10m"], "range": ["#7F7F7F","#000000","#000000","#000000","#000000","#000000"]}, "legend": null}}},
        {"mark": {"type": "bar", "strokeWidth": 2}, "encoding": {"y": {"field": "q1", "type": "quantitative", "axis": null}, "y2": {"field": "q3"}, "fill": {"field": "grp", "type": "nominal", "scale": {"domain": ["WT-1m","AD-1m","WT-4m","AD-4m","WT-10m","AD-10m"], "range": ["#000000","#FFC000","#0070C0","#BF9000","#00B0F0","#7F6000"]}, "legend": null}, "stroke": {"field": "grp", "type": "nominal", "legend": null}}},
        {"mark": {"type": "tick", "thickness": 2, "size": 15, "orient": "horizontal"}, "encoding": {"y": {"field": "med", "type": "quantitative", "axis": null}, "color": {"field": "grp", "type": "nominal", "legend": null}}},
        {"transform": [{"fold": ["omin","omax"], "as": ["k","e"]}], "mark": {"type": "circle", "size": 55, "opacity": 1}, "encoding": {"y": {"field": "e", "type": "quantitative", "axis": null}, "fill": {"field": "grp", "type": "nominal", "legend": null}}}
      ]},
     {"data": {"name": "Eann"}, "transform": [{"filter": "datum.age == '10m' && datum.k == 'axis'"}], "mark": {"type": "rule", "color": "#595959", "strokeWidth": 1.5, "xOffset": -28.5, "x2Offset": 17.6}, "encoding": {"x2": {"field": "cur2"}, "y": {"field": "base", "type": "quantitative", "axis": null}}},
     {"data": {"name": "Eann"}, "transform": [{"filter": "datum.age == '10m' && datum.k == 'line'"}], "mark": {"type": "rule", "color": "#FF0000", "strokeWidth": 2.5, "xOffset": 5.5, "x2Offset": 17.6}, "encoding": {"x2": {"field": "cur2"}, "y": {"datum": 27.95, "type": "quantitative", "axis": null}}},
     {"data": {"name": "Eann"}, "transform": [{"filter": "datum.age == '10m' && datum.k == 'star'"}], "mark": {"type": "text", "color": "#FF0000", "fontSize": 22, "baseline": "alphabetic", "align": "center", "dx": 42.9, "dy": 1}, "encoding": {"y": {"datum": 28, "type": "quantitative", "axis": null}, "text": {"field": "label"}}},
     {"data": {"name": "Eann"}, "transform": [{"filter": "datum.age == '10m' && datum.k == 'lgWT'"}], "mark": {"type": "text", "fontSize": 18, "align": "left", "baseline": "middle", "dx": 13.2}, "encoding": {"y": {"datum": 32.7, "type": "quantitative", "axis": null}, "text": {"field": "label"}, "fill": {"field": "grp", "type": "nominal", "legend": null}}},
     {"data": {"name": "Eann"}, "transform": [{"filter": "datum.age == '10m' && datum.k == 'lgAD'"}], "mark": {"type": "text", "fontSize": 18, "align": "left", "baseline": "middle", "dx": 13.2}, "encoding": {"y": {"datum": 30.2, "type": "quantitative", "axis": null}, "text": {"field": "label"}, "fill": {"field": "grp", "type": "nominal", "legend": null}}}
   ]}
]
}
